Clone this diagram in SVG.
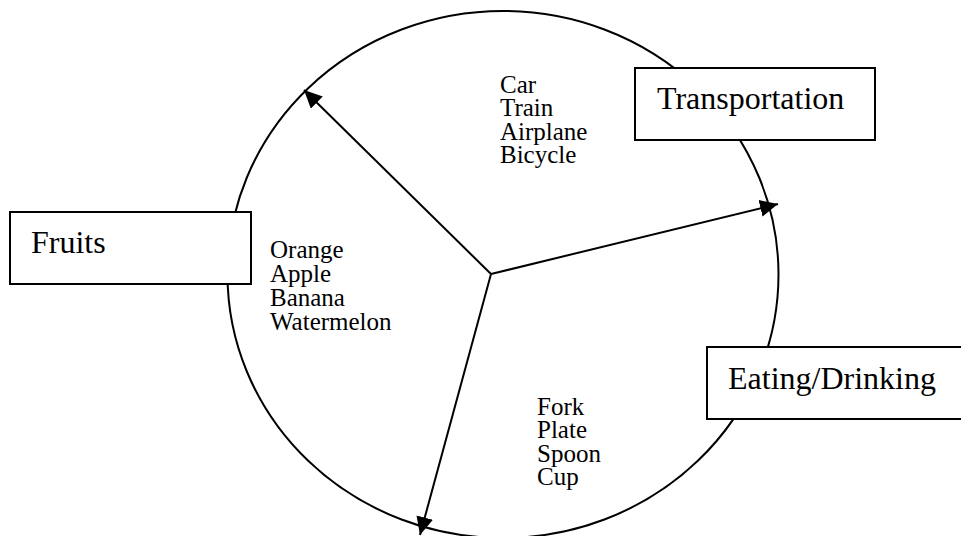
<svg xmlns="http://www.w3.org/2000/svg" width="961" height="536" viewBox="0 0 961 536">
<style>
.box{fill:#fff;stroke:#000;stroke-width:2}
.ring{fill:none;stroke:#000;stroke-width:2}
.spoke{stroke:#000;stroke-width:2;fill:none}
.lbl{font-family:"Liberation Serif","Times New Roman",serif;font-size:32px;fill:#000}
.item{font-family:"Liberation Serif","Times New Roman",serif;font-size:25px;fill:#000}
</style>
<defs>
<marker id="ah" viewBox="0 0 18 17" refX="18" refY="8.5" markerWidth="18" markerHeight="17" markerUnits="userSpaceOnUse" orient="auto">
<path d="M0,0 L18,8.5 L0,17 z" fill="#000"/>
</marker>
</defs>
<rect width="961" height="536" fill="#fff"/>
<g id="circle"><ellipse class="ring" cx="503" cy="274.5" rx="275.5" ry="263.5"/></g>
<g id="connectors">
<line class="spoke" x1="491" y1="274" x2="304" y2="90" marker-end="url(#ah)"/>
<line class="spoke" x1="491" y1="274" x2="778" y2="204" marker-end="url(#ah)"/>
<line class="spoke" x1="491" y1="274" x2="420" y2="535" marker-end="url(#ah)"/>
</g>
<g id="transport-items">
<text class="item" x="500" y="93">Car</text>
<text class="item" x="500" y="116">Train</text>
<text class="item" x="500" y="140">Airplane</text>
<text class="item" x="500" y="163">Bicycle</text>
</g>
<g id="fruit-items">
<text class="item" x="270" y="258">Orange</text>
<text class="item" x="270" y="282">Apple</text>
<text class="item" x="270" y="306">Banana</text>
<text class="item" x="270" y="330">Watermelon</text>
</g>
<g id="eating-items">
<text class="item" x="537" y="415">Fork</text>
<text class="item" x="537" y="438">Plate</text>
<text class="item" x="537" y="462">Spoon</text>
<text class="item" x="537" y="485">Cup</text>
</g>
<g id="fruits"><rect class="box" x="10" y="212" width="241" height="72"/><text class="lbl" x="31" y="253">Fruits</text></g>
<g id="transportation"><rect class="box" x="635" y="68" width="240" height="72"/><text class="lbl" x="657" y="109">Transportation</text></g>
<g id="eating"><rect class="box" x="707" y="347" width="260" height="72"/><text class="lbl" x="728" y="389">Eating/Drinking</text></g>
</svg>
